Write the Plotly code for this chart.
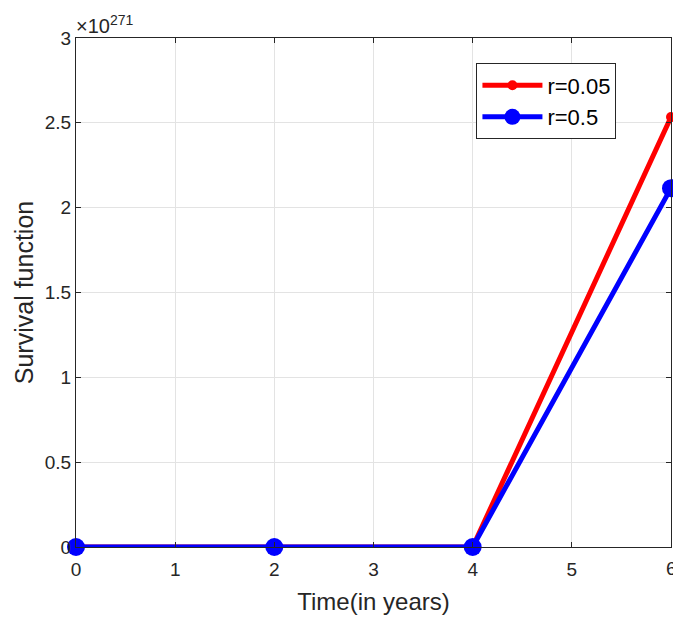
import plotly.graph_objects as go

# Data (survival values in units of 10^271)
time_years = [0, 2, 4, 6]
exponent = 271
surv_r005 = [0.0, 0.0, 0.0, 2.534]
surv_r05 = [0.0, 0.0, 0.0, 2.115]
x_ticks = [0, 1, 2, 3, 4, 5, 6]
x_tick_labels = ["0", "1", "2", "3", "4", "5", "6"]
y_ticks = [0, 0.5, 1, 1.5, 2, 2.5, 3]
y_tick_labels = ["0", "0.5", "1", "1.5", "2", "2.5", "3"]

font_family = "Liberation Sans, Arial, sans-serif"
text_color = "#262626"
tick_size = 19

fig = go.Figure()
fig.add_trace(go.Scatter(
    x=time_years, y=surv_r005, mode="lines+markers", name="r=0.05",
    line=dict(color="#ff0000", width=5),
    marker=dict(color="#ff0000", size=10),
    cliponaxis=False,
))
fig.add_trace(go.Scatter(
    x=time_years, y=surv_r05, mode="lines+markers", name="r=0.5",
    line=dict(color="#0000ff", width=5),
    marker=dict(color="#0000ff", size=18),
    cliponaxis=False,
))

axis_common = dict(
    showline=True, linecolor="#262626", linewidth=1, mirror="ticks",
    ticks="inside", ticklen=5, tickcolor="#262626",
    showgrid=True, gridcolor="#e3e3e3", gridwidth=1,
    zeroline=False,
    tickfont=dict(size=tick_size, color=text_color, family=font_family),
)

annotations = [dict(
    x=0, y=1, xref="paper", yref="paper", xanchor="left", yanchor="bottom",
    text="×10<sup>%d</sup>" % exponent, showarrow=False,
    font=dict(size=20, color=text_color, family=font_family), yshift=-1, xshift=-2,
)]
# last x tick label sits on the window edge; draw it as an annotation so it isn't dropped
annotations.append(dict(
    x=x_ticks[-1], y=0, xref="x", yref="paper", xanchor="center", yanchor="top",
    text=x_tick_labels[-1], showarrow=False, yshift=-9,
    font=dict(size=tick_size, color=text_color, family=font_family),
))

fig.update_layout(
    width=673, height=617,
    margin=dict(l=76, r=2, t=38, b=70),
    paper_bgcolor="white", plot_bgcolor="white",
    font=dict(family=font_family, color=text_color),
    xaxis=dict(
        range=[0, 6], tickvals=x_ticks[:-1], ticktext=x_tick_labels[:-1],
        ticklabelstandoff=5,
        title=dict(text="Time(in years)", font=dict(size=24, color=text_color), standoff=14),
        **axis_common,
    ),
    yaxis=dict(
        range=[0, 3], tickvals=y_ticks, ticktext=y_tick_labels,
        title=dict(text="Survival function", font=dict(size=25, color=text_color), standoff=4),
        **axis_common,
    ),
    legend=dict(
        x=0.673, y=0.95, xanchor="left", yanchor="top",
        bgcolor="white", bordercolor="#262626", borderwidth=1,
        font=dict(size=22, color="#000000", family=font_family),
        itemwidth=60, tracegroupgap=0,
    ),
    showlegend=True,
    annotations=annotations,
)

fig.write_html("out.html")
